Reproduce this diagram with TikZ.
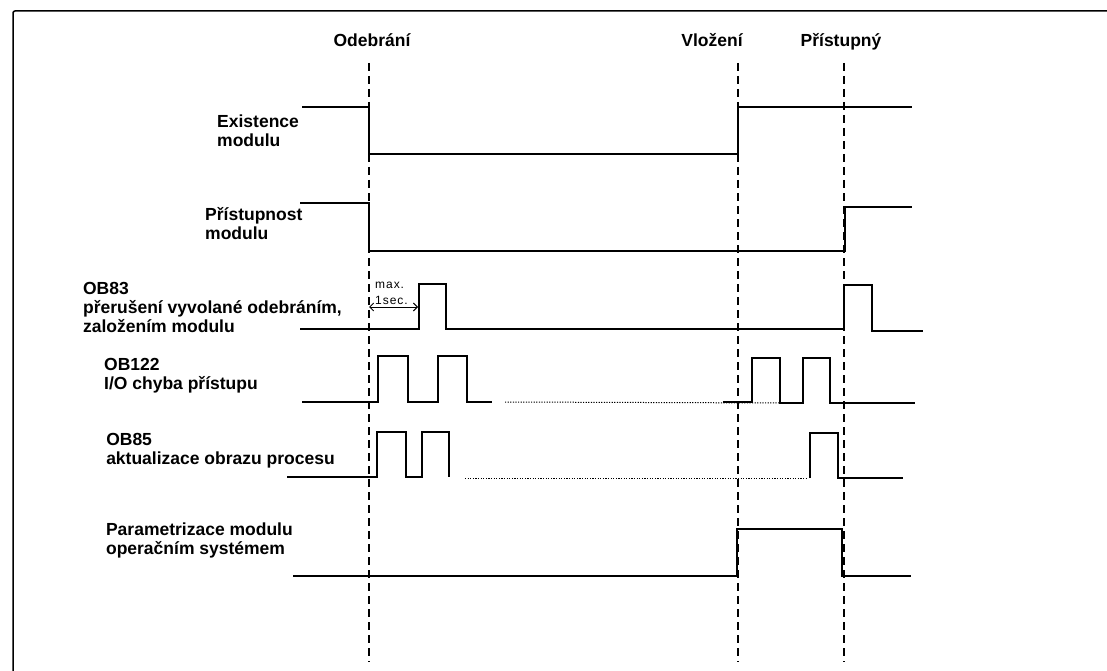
\documentclass[tikz,border=0pt]{standalone}
\usepackage{fontspec}
\setmainfont{Liberation Sans}
\usepackage{tikz}
\usetikzlibrary{arrows.meta}

\begin{document}
\begin{tikzpicture}[x=1pt, y=-1pt,
    sig/.style={line width=1.2pt, line join=miter},
    sigbold/.style={line width=2.8pt, line join=miter},
    marker/.style={line width=1.6pt, dash pattern=on 8pt off 5pt},
    gap/.style={line width=1pt, dash pattern=on 1.2pt off 1.4pt},
    lbl/.style={inner sep=0pt, align=left, font=\fontsize{17.5}{19}\selectfont\bfseries},
    evt/.style={inner sep=0pt, font=\fontsize{17.5}{19}\selectfont\bfseries},
    note/.style={inner sep=0pt, align=left, font=\fontsize{12}{16}\selectfont\addfontfeature{LetterSpace=8}}
]
    \useasboundingbox (0,0) rectangle (1107,671);

    % Rahmen (oben und links)
    \draw[line width=1.5pt, rounded corners=2pt] (13,671) -- (13,11) -- (1107,11);

    % Ereignisse
    \node[evt, anchor=base] (tremove) at (372,47) {Odebrání};
    \node[evt, anchor=base] (tinsert) at (712,47) {Vložení};
    \node[evt, anchor=base] (tready)  at (841,47) {Přístupný};

    \draw[marker] (369,63) -- (369,662);
    \draw[marker] (738,63) -- (738,662);
    \draw[marker] (844,63) -- (844,662);

    % Beschriftung der Signale (Basis = letzte Zeile)
    \node[lbl, anchor=base west] (lblexist)  at (217,147) {Existence\\modulu};
    \node[lbl, anchor=base west] (lblaccess) at (205,239) {Přístupnost\\modulu};
    \node[lbl, anchor=base east] (lblob83)   at (342,332) {OB83\\přerušení vyvolané odebráním,\\založením modulu};
    \node[lbl, anchor=base east] (lblob122)  at (258,389) {OB122\\I/O chyba přístupu};
    \node[lbl, anchor=base east] (lblob85)   at (335,464) {OB85\\aktualizace obrazu procesu};
    \node[lbl, anchor=base east] (lblparam)  at (293,554) {Parametrizace modulu\\operačním systémem};

    % Existence modulu
    \draw[sig] (302,107) -- (369,107) -- (369,154) -- (738,154) -- (738,107) -- (912,107);

    % Pristupnost modulu
    \draw[sigbold] (300,203) -- (369,203) -- (369,251) -- (845,251) -- (845,207) -- (912,207);

    % OB83
    \draw[sig] (300,329) -- (419,329) -- (419,284) -- (446,284) -- (446,329) -- (844,329)
        -- (844,285) -- (872,285) -- (872,331) -- (923,331);
    \draw[line width=0.9pt, {Straight Barb[length=4pt]}-{Straight Barb[length=4pt]}] (369,307) -- (418,307);
    \node[note, anchor=base west] (maxtime) at (375,304) {max.\\1sec.};

    % OB122
    \draw[sig] (302,402) -- (378,402) -- (378,356) -- (408,356) -- (408,402) -- (438,402)
        -- (438,356) -- (467,356) -- (467,402) -- (492,402);
    \draw[gap] (505,402) -- (785,403);
    \draw[sig] (723,402) -- (752,402) -- (752,358) -- (780,358) -- (780,403) -- (803,403)
        -- (803,358) -- (830,358) -- (830,403) -- (915,403);

    % OB85
    \draw[sig] (287,477) -- (377,477) -- (377,432) -- (406,432) -- (406,477) -- (422,477)
        -- (422,432) -- (449,432) -- (449,477);
    \draw[gap] (465,478) -- (808,478);
    \draw[sig] (810,478) -- (810,433) -- (838,433) -- (838,478) -- (903,478);

    % Parametrizace
    \draw[sig] (293,576) -- (737,576) -- (737,529) -- (842,529) -- (842,576) -- (911,576);
\end{tikzpicture}
\end{document}
